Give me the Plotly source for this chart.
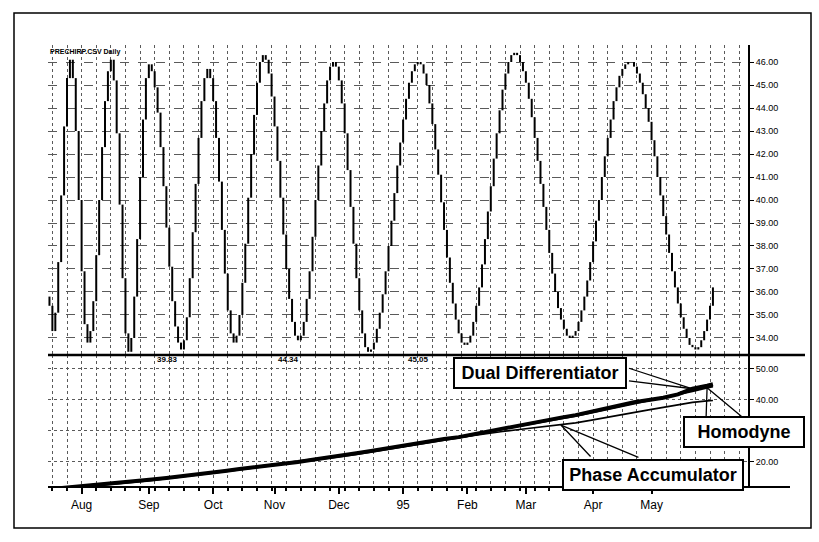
import pandas as pd
import plotly.graph_objects as go
from plotly.subplots import make_subplots

# ---------------- data ----------------
# daily closes of the chirp test series (one value per trading day)
close = [
    35.4, 34.3,
    35.1, 37.3, 40.2, 43.2, 45.3, 46.1,
    45.3, 43.0, 40.0, 36.9, 34.6, 33.8,
    34.3, 35.6, 37.6, 40.0, 42.3, 44.3, 45.6, 46.1,
    45.2, 42.9, 39.8, 36.6, 34.2, 33.4,
    34.0, 35.8, 38.3, 41.0, 43.5, 45.3, 45.9,
    45.6, 44.9, 43.8, 42.3, 40.6, 38.8, 37.1, 35.6, 34.5, 33.8, 33.5,
    33.9, 34.9, 36.6, 38.6, 40.7, 42.7, 44.3, 45.3, 45.7,
    45.3, 44.3, 42.7, 40.8, 38.7, 36.8, 35.2, 34.2, 33.8,
    34.1, 35.0, 36.4, 38.1, 40.1, 42.0, 43.7, 45.1, 46.0, 46.3,
    46.1, 45.5, 44.5, 43.2, 41.7, 40.1, 38.5, 37.0, 35.7, 34.7, 34.1, 33.9,
    34.1, 34.7, 35.7, 36.9, 38.4, 40.0, 41.5, 43.0, 44.2, 45.2, 45.8, 46.0,
    45.8, 45.2, 44.2, 42.9, 41.3, 39.7, 38.1, 36.6, 35.2, 34.2, 33.6, 33.4,
    33.5, 33.8, 34.4, 35.1, 35.9, 36.9, 38.0, 39.1, 40.3, 41.5, 42.5, 43.5, 44.4, 45.1, 45.6, 45.9, 46.0,
    45.9, 45.5, 45.0, 44.2, 43.3, 42.2, 41.1, 39.9, 38.7, 37.5, 36.4, 35.5, 34.8, 34.2, 33.8, 33.7,
    33.8, 34.1, 34.7, 35.4, 36.2, 37.2, 38.3, 39.5, 40.6, 41.8, 42.9, 43.9, 44.8, 45.5, 46.0, 46.3, 46.4,
    46.3, 46.0, 45.6, 45.1, 44.4, 43.6, 42.7, 41.7, 40.7, 39.7, 38.7, 37.7, 36.8, 36.0, 35.3, 34.8, 34.4, 34.1, 34.0,
    34.1, 34.3, 34.7, 35.2, 35.8, 36.5, 37.3, 38.2, 39.1, 40.0, 41.0, 41.9, 42.7, 43.5, 44.3, 44.9, 45.4, 45.7, 45.9, 46.0,
    46.0, 45.8, 45.5, 45.1, 44.6, 44.0, 43.4, 42.6, 41.9, 41.0, 40.2, 39.3, 38.5, 37.7, 36.9, 36.2, 35.5, 34.9, 34.4, 34.0, 33.7, 33.6, 33.5,
    33.6, 33.9, 34.3, 34.8, 35.4, 36.2,
]
dates = pd.bdate_range("1994-07-15", periods=len(close))

# measured cycle periods, sampled weekly plus the last bar
period_dates = list(dates[::5]) + [dates[-1]]
dual_diff = [11.2, 11.6, 12.0, 12.5, 13.0, 13.3, 13.8, 14.3, 14.8, 15.3,
             15.9, 16.5, 17.1, 17.7, 18.2, 18.8, 19.4, 20.0, 20.7, 21.3,
             22.0, 22.8, 23.5, 24.3, 25.1, 25.9, 26.8, 27.4, 28.0, 28.9,
             30.1, 31.0, 31.8, 32.5, 33.4, 34.3, 35.1, 36.2, 37.3, 38.4,
             39.3, 40.0, 40.7, 41.8, 43.6, 44.6, 45.05]
homodyne = [11.0, 11.4, 11.9, 12.3, 12.8, 13.2, 13.6, 14.1, 14.6, 15.1,
            15.7, 16.3, 16.9, 17.5, 18.0, 18.6, 19.2, 19.8, 20.4, 21.1,
            21.8, 22.5, 23.3, 24.0, 24.8, 25.6, 26.4, 27.1, 27.8, 28.6,
            29.6, 30.6, 31.4, 32.2, 33.0, 33.9, 34.8, 35.8, 36.8, 37.8,
            38.8, 39.7, 40.6, 41.6, 42.8, 43.9, 44.34]
phase_acc = [11.4, 11.8, 12.2, 12.6, 13.1, 13.5, 13.9, 14.4, 14.9, 15.4,
             16.0, 16.6, 17.2, 17.8, 18.3, 18.9, 19.5, 20.1, 20.8, 21.4,
             22.1, 22.8, 23.6, 24.3, 25.0, 25.8, 26.5, 27.2, 27.8, 28.5,
             29.2, 29.8, 30.4, 30.9, 31.4, 31.9, 32.6, 33.4, 34.3, 35.2,
             36.0, 36.8, 37.6, 38.5, 39.2, 39.7, 39.83]

month_ticks = ["1994-08-01", "1994-09-01", "1994-10-03", "1994-11-01", "1994-12-01",
               "1995-01-02", "1995-02-01", "1995-03-01", "1995-04-03", "1995-05-01"]
month_labels = ["Aug", "Sep", "Oct", "Nov", "Dec", "95", "Feb", "Mar", "Apr", "May"]
price_ticks = [34, 35, 36, 37, 38, 39, 40, 41, 42, 43, 44, 45, 46]
period_ticks = [20, 30, 40, 50]
period_tick_labels = ["20.00", "", "40.00", "50.00"]

# ---------------- page geometry ----------------
W, H = 819, 542
ML, MR, MT, MB = 48, 71, 45, 55
PW, PH = W - ML - MR, H - MT - MB
TOP_H = 310


def px(x):
    return (x - ML) / PW


def py(y):
    return (H - MB - y) / PH


FONT = "Liberation Sans, Arial, sans-serif"
GRID = "#5a5a5a"

fig = make_subplots(rows=2, cols=1, shared_xaxes=True, vertical_spacing=0,
                    row_heights=[TOP_H / PH, 1 - TOP_H / PH])

# daily bars: each bar spans the move from the previous close to this close
bx, by = [], []
prev = close[0] + 0.4
for d, c in zip(dates, close):
    bx += [d, d, None]
    by += [min(prev, c), max(prev, c), None]
    prev = c
fig.add_trace(go.Scatter(x=bx, y=by, mode="lines", line=dict(color="black", width=2),
                         hoverinfo="skip", showlegend=False), row=1, col=1)

fig.add_trace(go.Scatter(x=period_dates, y=phase_acc, mode="lines",
                         line=dict(color="black", width=1.6), name="Phase Accumulator",
                         showlegend=False), row=2, col=1)
fig.add_trace(go.Scatter(x=period_dates, y=homodyne, mode="lines",
                         line=dict(color="black", width=2), name="Homodyne",
                         showlegend=False), row=2, col=1)
fig.add_trace(go.Scatter(x=period_dates, y=dual_diff, mode="lines",
                         line=dict(color="black", width=4), name="Dual Differentiator",
                         showlegend=False), row=2, col=1)

week = 7 * 24 * 3600 * 1000
fig.update_xaxes(
    type="date",
    range=["1994-07-14 12:00", "1995-06-15"],
    rangebreaks=[dict(bounds=["sat", "mon"])],
    tickvals=month_ticks, ticktext=month_labels,
    showgrid=False, zeroline=False, showline=False,
    minor=dict(dtick=week, tick0="1994-07-18", showgrid=True, gridcolor=GRID,
               griddash="dot", gridwidth=1),
)
fig.update_xaxes(ticks="", showticklabels=False, row=1, col=1)
fig.update_xaxes(ticks="outside", ticklen=6, tickwidth=1.5, tickcolor="black",
                 ticklabelstandoff=1,
                 tickfont=dict(family=FONT, size=12, color="black"),
                 row=2, col=1)
fig.update_layout(xaxis2_minor=dict(ticks="outside", ticklen=3, tickcolor="black"))

fig.update_yaxes(side="right", showline=True, linewidth=2, linecolor="black",
                 ticks="outside", ticklen=4, tickcolor="black", zeroline=False,
                 tickfont=dict(family=FONT, size=9, color="black"),
                 showgrid=True, gridcolor=GRID, griddash="dash", gridwidth=1)
fig.update_yaxes(range=[33.26, 46.74], tickvals=price_ticks,
                 ticktext=[f"{v:.2f}" for v in price_ticks], row=1, col=1)
fig.update_yaxes(range=[11.9, 54.5], tickvals=period_ticks,
                 ticktext=period_tick_labels, griddash="dot", row=2, col=1)

# frame, panel separator and bottom axis rule
shapes = [
    dict(type="rect", xref="paper", yref="paper", x0=px(14), x1=px(811), y0=py(528), y1=py(13),
         line=dict(color="black", width=1.5)),
    dict(type="line", xref="paper", yref="paper", x0=0, x1=px(805), y0=py(355), y1=py(355),
         line=dict(color="black", width=2.5)),
    dict(type="line", xref="paper", yref="paper", x0=0, x1=px(790), y0=0, y1=0,
         line=dict(color="black", width=2)),
]

annotations = [
    dict(text="<b>PRECHIRP.CSV Daily</b>", xref="paper", yref="paper", x=px(48), y=py(52),
         xanchor="left", yanchor="middle", showarrow=False,
         font=dict(family=FONT, size=7, color="black")),
]
for val, cx in [(phase_acc[-1], 155), (homodyne[-1], 288), (dual_diff[-1], 418)]:
    annotations.append(dict(text=f"<b>{val:.2f}</b>", xref="paper", yref="paper",
                            x=px(cx), y=py(366), showarrow=False,
                            font=dict(family=FONT, size=8, color="black")))

# callout pointers, anchored on the period lines
pointers = [
    (period_dates[44], dual_diff[44], [(-65, -21), (-65, -8)]),
    (period_dates[45], homodyne[45], [(36, 30), (-1, 30)]),
    (period_dates[35], phase_acc[35], [(31, 33), (79, 33)]),
]
for d, v, tails in pointers:
    for ax, ay in tails:
        annotations.append(dict(x=d, y=v, xref="x2", yref="y2", text="", showarrow=True,
                                arrowhead=0, arrowwidth=1.3, arrowcolor="black",
                                ax=ax, ay=ay, standoff=0, startstandoff=0))

# callout boxes
for label, cx, cy, w in [("Dual Differentiator", 540, 373, 166),
                         ("Homodyne", 744, 432, 114),
                         ("Phase Accumulator", 653, 475, 174)]:
    annotations.append(dict(text=f"<b>{label}</b>", xref="paper", yref="paper",
                            x=px(cx), y=py(cy), xanchor="center", yanchor="middle",
                            showarrow=False, width=w, height=24, borderpad=2,
                            bgcolor="white", bordercolor="black", borderwidth=2,
                            font=dict(family=FONT, size=18, color="black")))

fig.update_layout(
    width=W, height=H,
    margin=dict(l=ML, r=MR, t=MT, b=MB),
    paper_bgcolor="white", plot_bgcolor="white",
    shapes=shapes, annotations=annotations,
    font=dict(family=FONT, color="black"),
    showlegend=False,
)

fig.write_html("out.html")
